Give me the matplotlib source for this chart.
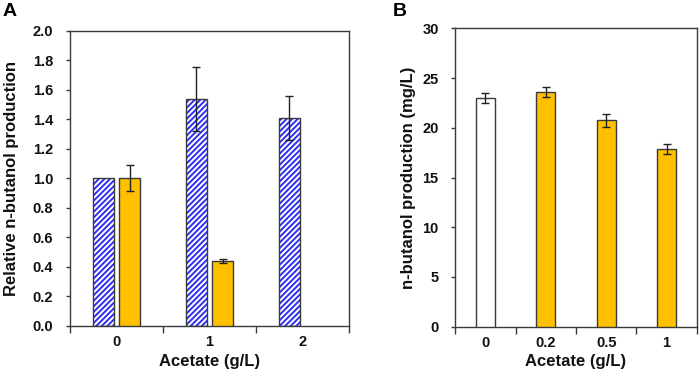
import matplotlib
matplotlib.use("Agg")
import matplotlib.pyplot as plt
import numpy as np

plt.rcParams['font.family'] = ['Liberation Sans', 'DejaVu Sans']
plt.rcParams['font.weight'] = 'bold'
plt.rcParams['hatch.linewidth'] = 1.4

# Panel A data
a_categories = ["0", "1", "2"]
a_blue = [1.0, 1.537, 1.408]
a_blue_err = [0.0, 0.215, 0.15]
a_yellow = [1.0, 0.44, None]
a_yellow_err = [0.087, 0.015, None]

# Panel B data
b_categories = ["0", "0.2", "0.5", "1"]
b_values = [23.0, 23.6, 20.75, 17.87]
b_err = [0.5, 0.47, 0.65, 0.48]
b_colors = ["white", "#FFC000", "#FFC000", "#FFC000"]

EDGE = "#3a3a3a"
BLUE = "#2E2EF0"
YELLOW = "#FFC000"

fig = plt.figure(figsize=(6.99, 3.73), dpi=100)
axA = fig.add_axes([70/699, 1-325.7/373, 279/699, 295/373])
axB = fig.add_axes([455.3/699, 1-326.7/373, 241.4/699, 298.4/373])

def style(ax):
    for s in ax.spines.values():
        s.set_color(EDGE)
        s.set_linewidth(1.0)
    ax.tick_params(axis='y', direction='out', length=3, width=1, color=EDGE,
                   labelsize=10.5, pad=9)
    ax.tick_params(axis='x', which='major', direction='out', length=5, width=1,
                   color=EDGE, labelbottom=False)
    ax.tick_params(axis='x', which='minor', length=0, labelsize=10.5, pad=7)
    for lab in ax.get_yticklabels() + ax.get_xticklabels(minor=True):
        lab.set_fontweight('bold')
        lab.set_color('#111111')

# ---------- Panel A ----------
xa = np.arange(len(a_categories))
w = 0.23
off = 0.143
# blue hatched bars
axA.bar(xa - off, a_blue, w, color='white', edgecolor=BLUE, hatch='//////',
        linewidth=0, zorder=2)
axA.bar(xa - off, a_blue, w, fill=False, edgecolor=EDGE, linewidth=1.0, zorder=3)
errx = [x - off for x, e in zip(xa, a_blue_err) if e > 0]
erry = [v for v, e in zip(a_blue, a_blue_err) if e > 0]
erre = [e for e in a_blue_err if e > 0]
axA.errorbar(errx, erry, yerr=erre, fmt='none', ecolor='#222222', elinewidth=1,
             capsize=2.6, capthick=1, zorder=4)
# yellow bars
yx = [x + off for x, v in zip(xa, a_yellow) if v is not None]
yv = [v for v in a_yellow if v is not None]
ye = [e for e in a_yellow_err if e is not None]
axA.bar(yx, yv, w, color=YELLOW, edgecolor=EDGE, linewidth=1.0, zorder=3)
axA.errorbar(yx, yv, yerr=ye, fmt='none', ecolor='#222222', elinewidth=1,
             capsize=2.6, capthick=1, zorder=4)

axA.set_xlim(-0.5, len(a_categories) - 0.5)
axA.set_ylim(0, 2.0)
axA.set_yticks(np.arange(0, 2.01, 0.2))
axA.set_yticklabels([f"{v:.1f}" for v in np.arange(0, 2.01, 0.2)])
axA.set_xticks(np.arange(-0.5, len(a_categories), 1.0))
axA.set_xticks(xa, minor=True)
axA.set_xticklabels(a_categories, minor=True)
style(axA)
axA.set_ylabel("Relative n-butanol production", fontsize=12, fontweight='bold',
               color='#111111', va='center')
axA.yaxis.set_label_coords(-0.208, 0.5)
axA.set_xlabel("Acetate (g/L)", fontsize=12, fontweight='bold', color='#111111',
               va='center')
axA.xaxis.set_label_coords(0.5, -0.12)

# ---------- Panel B ----------
xb = np.arange(len(b_categories))
axB.bar(xb, b_values, 0.315, color=b_colors, edgecolor=EDGE, linewidth=1.0, zorder=3)
axB.errorbar(xb, b_values, yerr=b_err, fmt='none', ecolor='#222222', elinewidth=1,
             capsize=3.2, capthick=1, zorder=4)
axB.set_xlim(-0.5, len(b_categories) - 0.5)
axB.set_ylim(0, 30)
axB.set_yticks(np.arange(0, 31, 5))
axB.set_xticks(np.arange(-0.5, len(b_categories), 1.0))
axB.set_xticks(xb, minor=True)
axB.set_xticklabels(b_categories, minor=True)
style(axB)
axB.set_ylabel("n-butanol production (mg/L)", fontsize=12, fontweight='bold',
               color='#111111', va='center')
axB.yaxis.set_label_coords(-0.192, 0.5)
axB.set_xlabel("Acetate (g/L)", fontsize=12, fontweight='bold', color='#111111',
               va='center')
axB.xaxis.set_label_coords(0.5, -0.115)

fig.text(3/699, 1-11.5/373, "A", fontsize=14, fontweight='bold', va='center', ha='left')
fig.text(393/699, 1-11.5/373, "B", fontsize=14, fontweight='bold', va='center', ha='left')

fig.savefig("out.png", dpi=100)
